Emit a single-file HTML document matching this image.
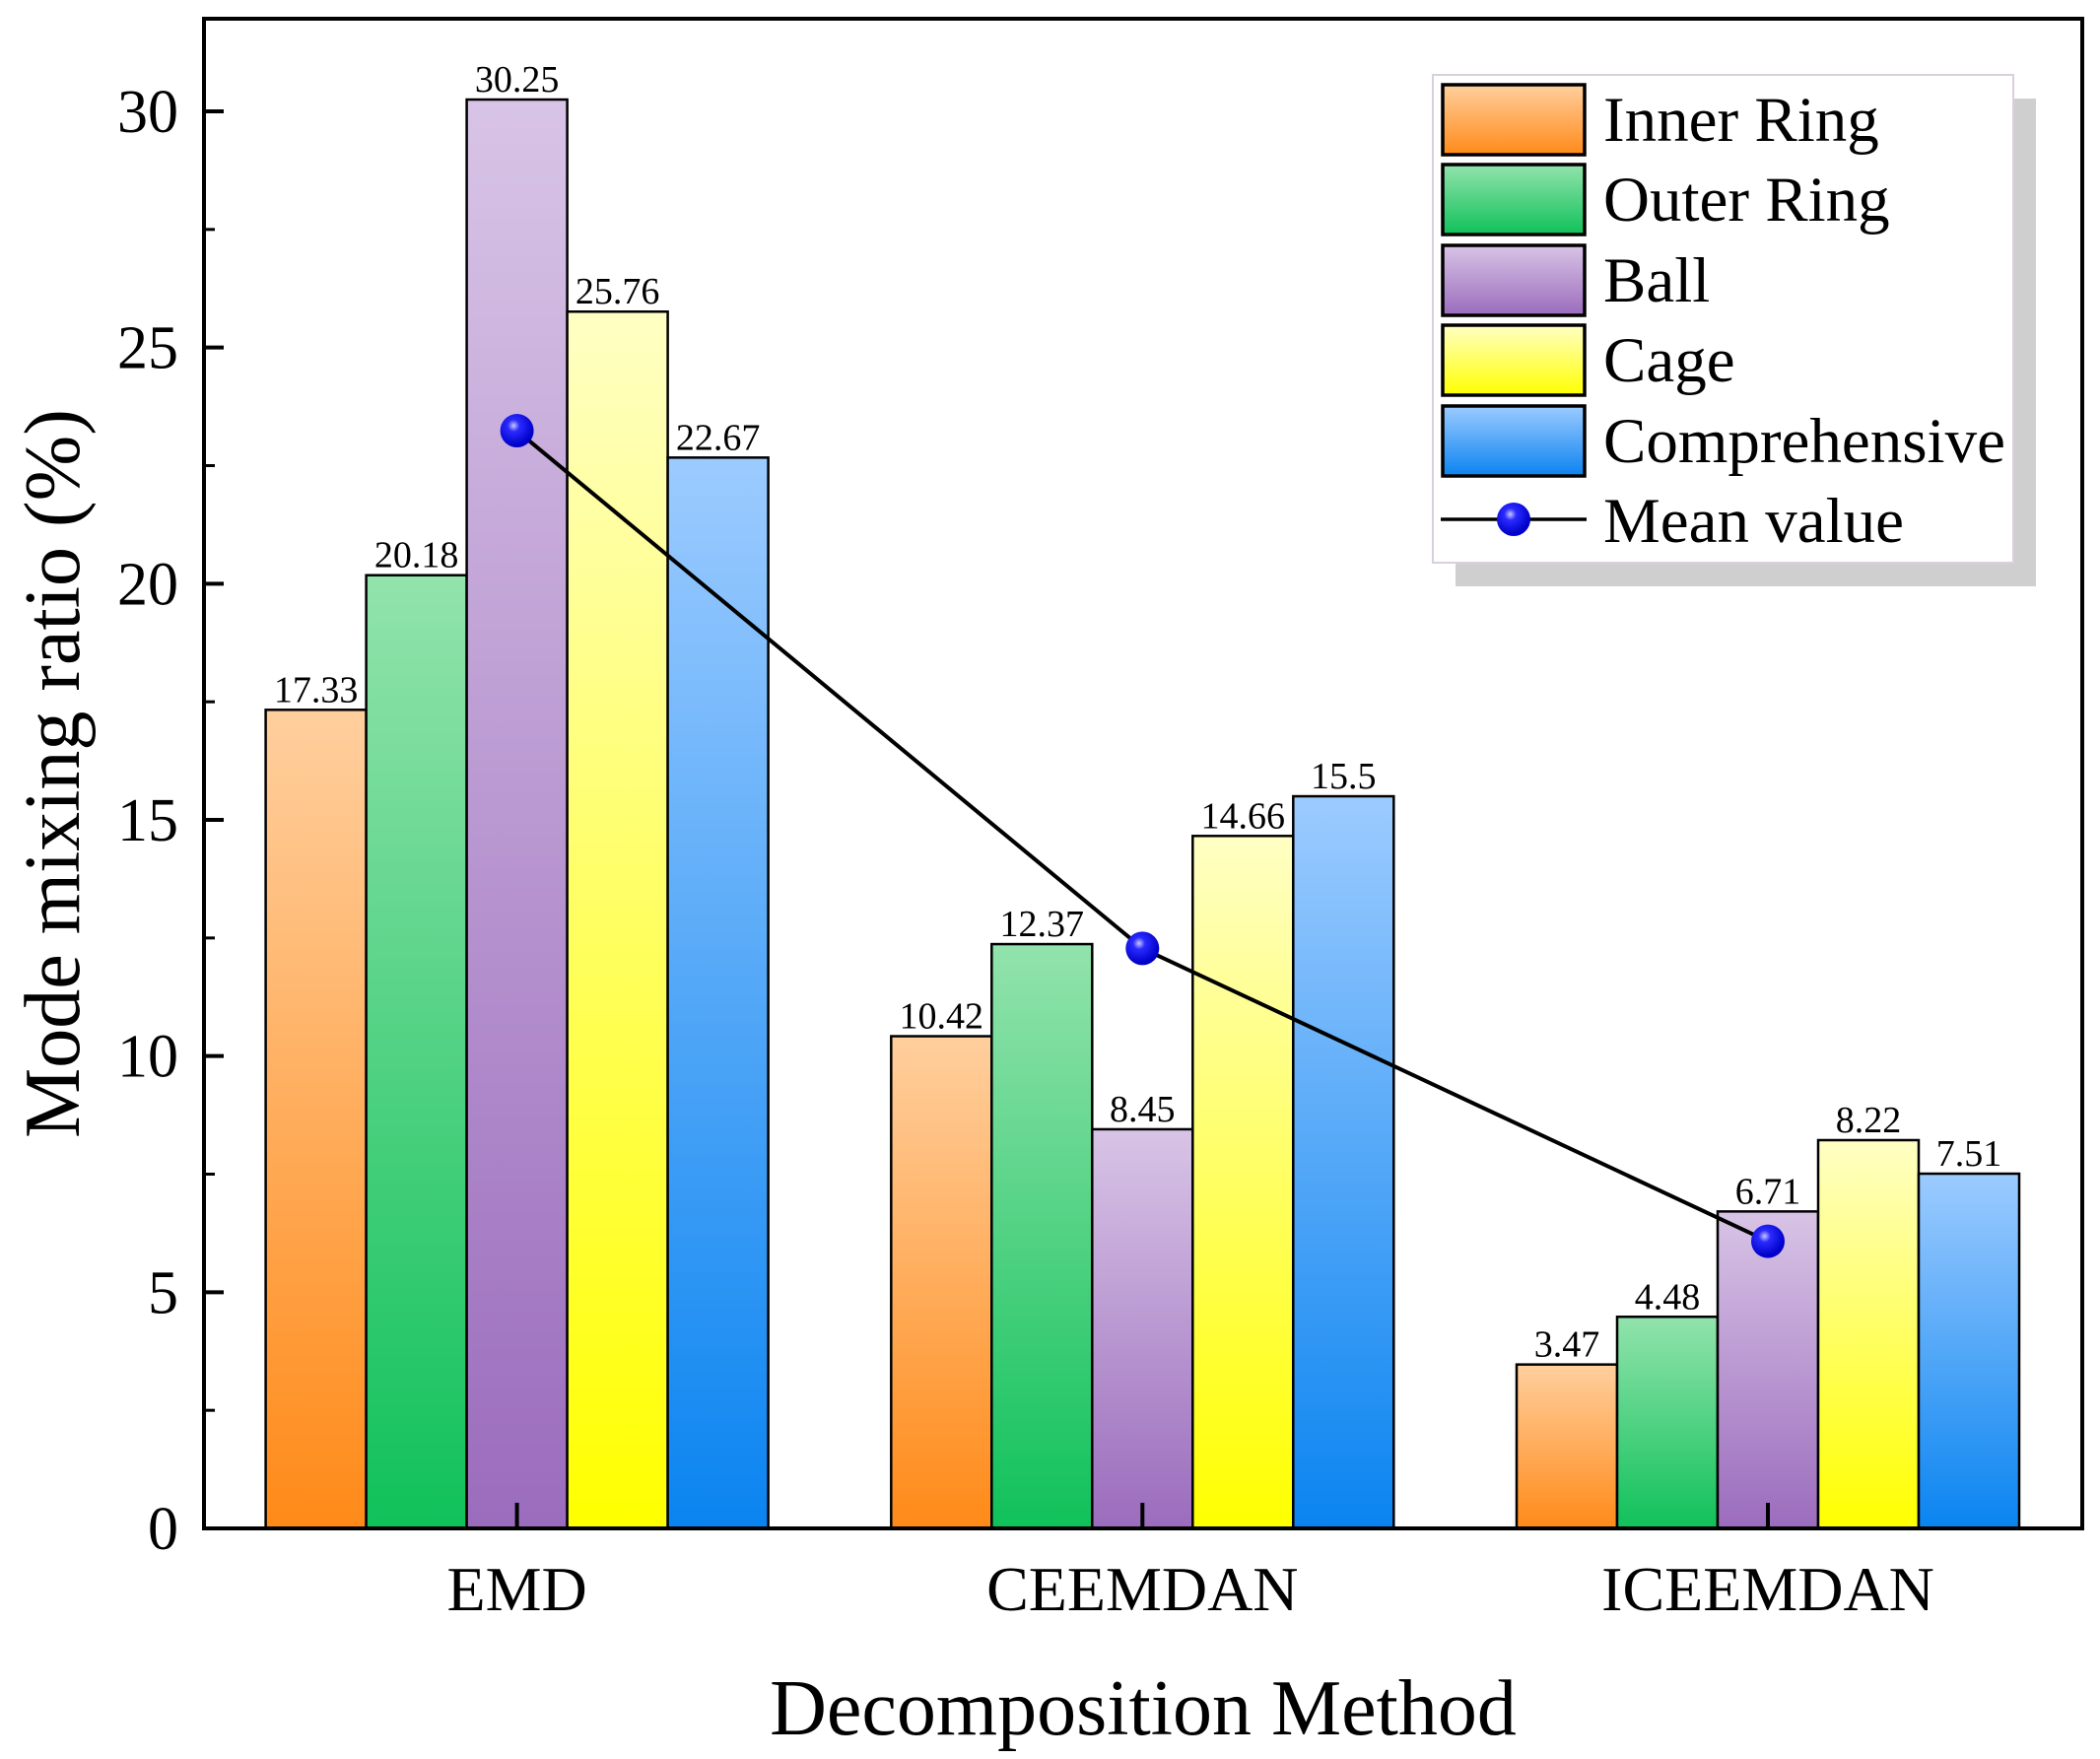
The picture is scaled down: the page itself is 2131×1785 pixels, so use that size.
<!DOCTYPE html>
<html><head><meta charset="utf-8"><style>
html,body{margin:0;padding:0;background:#fff;}
svg{display:block;font-family:"Liberation Serif",serif;}
</style></head><body>
<svg id="chart" width="2131" height="1785" viewBox="0 0 2131 1785" xmlns="http://www.w3.org/2000/svg">
<defs>
<linearGradient id="g0" x1="0" y1="0" x2="0" y2="1"><stop offset="0" stop-color="#ffcf9e"/><stop offset="1" stop-color="#ff8a18"/></linearGradient>
<linearGradient id="g1" x1="0" y1="0" x2="0" y2="1"><stop offset="0" stop-color="#92e3ac"/><stop offset="1" stop-color="#10c15a"/></linearGradient>
<linearGradient id="g2" x1="0" y1="0" x2="0" y2="1"><stop offset="0" stop-color="#d8c4e6"/><stop offset="1" stop-color="#9b6cbd"/></linearGradient>
<linearGradient id="g3" x1="0" y1="0" x2="0" y2="1"><stop offset="0" stop-color="#ffffc4"/><stop offset="1" stop-color="#ffff00"/></linearGradient>
<linearGradient id="g4" x1="0" y1="0" x2="0" y2="1"><stop offset="0" stop-color="#9ccbff"/><stop offset="1" stop-color="#0a84f0"/></linearGradient>
<radialGradient id="ball" cx="0.4" cy="0.35" r="0.6"><stop offset="0" stop-color="#c8c8ff"/><stop offset="0.3" stop-color="#2a2aff"/><stop offset="1" stop-color="#0000c8"/></radialGradient>
</defs>
<g id="plot"></g>
</svg>
<script>
const categories = ["EMD", "CEEMDAN", "ICEEMDAN"];
const seriesNames = ["Inner Ring", "Outer Ring", "Ball", "Cage", "Comprehensive"];
const innerRing = [17.33, 10.42, 3.47];
const outerRing = [20.18, 12.37, 4.48];
const ball = [30.25, 8.45, 6.71];
const cage = [25.76, 14.66, 8.22];
const comprehensive = [22.67, 15.5, 7.51];
const meanValues = [23.24, 12.28, 6.08];
const yTicks = [0, 5, 10, 15, 20, 25, 30];
const valueLabels = [["17.33","10.42","3.47"],["20.18","12.37","4.48"],["30.25","8.45","6.71"],["25.76","14.66","8.22"],["22.67","15.5","7.51"]];

const NS = "http://www.w3.org/2000/svg";
const g = document.getElementById("plot");
function mk(tag, attrs, parent){ const e=document.createElementNS(NS,tag); for(const k in attrs) e.setAttribute(k,attrs[k]); (parent||g).appendChild(e); return e; }

const L=207, R=2113, T=19, B=1551;
const y0=1551, y30=113;
function yScale(v){ return y0 - (v/30)*(y0-y30); }
const groupCenter0=524.6, groupStep=634.7, barW=102;
function xCenter(i){ return groupCenter0 + i*groupStep; }
const series=[innerRing,outerRing,ball,cage,comprehensive];

series.forEach((arr,s)=>{
  arr.forEach((v,i)=>{
    const x = xCenter(i) + (s-2.5)*barW;
    const r = mk("rect",{x:x,y:yScale(v),width:barW,height:yScale(0)-yScale(v),fill:"url(#g"+s+")",stroke:"#000","stroke-width":2.5});
    
    
    const t = mk("text",{x:x+barW/2,y:yScale(v)-8,"text-anchor":"middle","font-size":38,fill:"#000"});
    t.textContent = valueLabels[s][i];
    
    
  });
});

let pts = meanValues.map((v,i)=>xCenter(i)+","+yScale(v)).join(" ");
const pl = mk("polyline",{points:pts,fill:"none",stroke:"#000","stroke-width":4});


meanValues.forEach((v,i)=>{
  const c = mk("circle",{cx:xCenter(i),cy:yScale(v),r:17,fill:"url(#ball)"});
  
  
});

const fr = mk("rect",{x:L,y:T,width:R-L,height:B-T,fill:"none",stroke:"#000","stroke-width":4});



yTicks.forEach(v=>{
  const y=yScale(v);
  const tk=mk("line",{x1:L,x2:L+20,y1:y,y2:y,stroke:"#000","stroke-width":4});
  
  
  if(v<30){ const ym=yScale(v+2.5); const mt=mk("line",{x1:L,x2:L+11,y1:ym,y2:ym,stroke:"#000","stroke-width":3});   }
  const t=mk("text",{x:L-26,y:y+21,"text-anchor":"end","font-size":62,fill:"#000"});
  t.textContent=v;
  
  
});

categories.forEach((c,i)=>{
  const x=xCenter(i);
  const tk=mk("line",{x1:x,x2:x,y1:B,y2:B-26,stroke:"#000","stroke-width":4});
  
  
  const t=mk("text",{x:x,y:1634,"text-anchor":"middle","font-size":64,fill:"#000"});
  t.textContent=c;
  
  
});

const xt=mk("text",{x:1160,y:1760,"text-anchor":"middle","font-size":80,fill:"#000"});
xt.textContent="Decomposition Method";


const yt=mk("text",{x:0,y:0,"text-anchor":"middle","font-size":80,fill:"#000",transform:"translate(80,785) rotate(-90)"});
yt.textContent="Mode mixing ratio (%)";



const lg=mk("g",{});


mk("rect",{x:1477,y:100,width:589,height:495,fill:"#cfcfcf"},lg);
mk("rect",{x:1454,y:76,width:589,height:495,fill:"#fff",stroke:"#d8d0dc","stroke-width":2},lg);
const rowTops=[86,167,249,330,412];
seriesNames.forEach((n,s)=>{
  const e=mk("g",{},lg);
  
  
  mk("rect",{x:1464,y:rowTops[s],width:144,height:71,fill:"url(#g"+s+")",stroke:"#000","stroke-width":3.5},e);
  const t=mk("text",{x:1627,y:rowTops[s]+57,"font-size":65,fill:"#000"},e);
  t.textContent=n;
});
const me=mk("g",{},lg);


mk("line",{x1:1462,x2:1610,y1:527,y2:527,stroke:"#000","stroke-width":3.5},me);
mk("circle",{cx:1536,cy:527,r:17,fill:"url(#ball)"},me);
const mt=mk("text",{x:1627,y:550,"font-size":65,fill:"#000"},me);
mt.textContent="Mean value";
</script>
</body></html>
